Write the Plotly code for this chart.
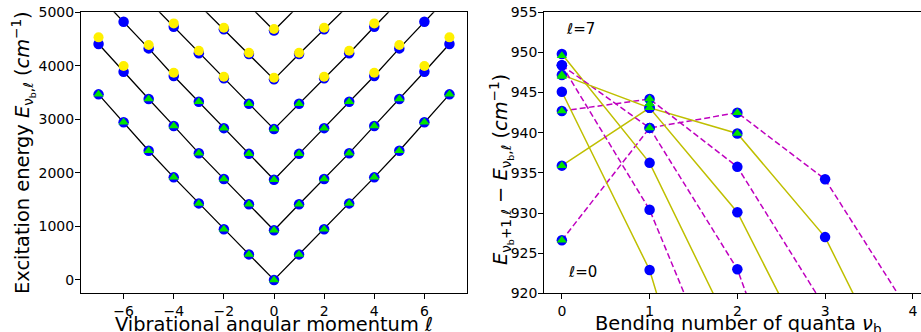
import plotly.graph_objects as go

# ---------------- Left panel data: E(vb, l) in cm^-1, listed per |l| with vb = |l|, |l|+2, ...
blue_l0 = [0, 928, 1872, 2818, 3747, 4660]
blue_l1 = [477, 1413, 2355, 3293, 4220, 5130]
blue_l2 = [946, 1887, 2836, 3768, 4683]
blue_l3 = [1430, 2368, 3328, 4234, 5143]
blue_l4 = [1916, 2877, 3810, 4731]
blue_l5 = [2414, 3380, 4326, 5211]
blue_l6 = [2945, 3890, 4824]
blue_l7 = [3467, 4407, 5313]
blue_by_l = [blue_l0, blue_l1, blue_l2, blue_l3, blue_l4, blue_l5, blue_l6, blue_l7]
green_max_vb = 7  # green triangles exist for vb <= 7

yellow_vb8_l = [0, 2, 4, 6]
yellow_vb8 = [3778, 3797, 3872, 3996]
yellow_vb9_l = [1, 3, 5, 7]
yellow_vb9 = [4245, 4283, 4388, 4532]
yellow_vb10_l = [0, 2, 4]
yellow_vb10 = [4687, 4712, 4793]

# ---------------- Right panel data: E(vb+1,l) - E(vb,l) vs vb index, per l
diff_l0 = [926.6, 940.6, 942.5, 934.2, 917.0]
diff_l1 = [935.9, 943.1, 939.9, 927.0, 905.0]
diff_l2 = [942.7, 944.2, 935.75, 918.2]
diff_l3 = [949.8, 936.25, 913.8]
diff_l4 = [948.4, 940.6, 923.0, 893.0]
diff_l5 = [947.2, 943.1, 930.1, 908.6]
diff_l6 = [948.4, 930.4, 904.0]
diff_l7 = [945.1, 922.9, 886.6]
diffs = [diff_l0, diff_l1, diff_l2, diff_l3, diff_l4, diff_l5, diff_l6, diff_l7]

gdiff_l0 = [926.6, 940.6, 942.5]
gdiff_l1 = [935.9, 943.1, 939.9]
gdiff_l2 = [942.7, 944.2]
gdiff_l3 = [949.6, 943.6]
gdiff_l4 = [947.0]
gdiff_l5 = [947.2]
gdiffs = [gdiff_l0, gdiff_l1, gdiff_l2, gdiff_l3, gdiff_l4, gdiff_l5]

BLUE = "#0000FF"
GREEN = "#00E400"
YELLOW = "#FFF000"
OLIVE = "#BFBF00"
MAGENTA = "#BF00BF"
FONT = "DejaVu Sans"

fig = go.Figure()

# ---- left: black lines of constant k (vb - |l| = 2k)
for k in range(6):
    xs, ys = [], []
    for l in range(-7, 8):
        arr = blue_by_l[abs(l)]
        if k < len(arr):
            xs.append(l)
            ys.append(arr[k])
    fig.add_trace(go.Scatter(x=xs, y=ys, mode="lines", line=dict(color="black", width=1.3),
                             showlegend=False, hoverinfo="skip", xaxis="x", yaxis="y"))

bx, by, gx, gy = [], [], [], []
for la, arr in enumerate(blue_by_l):
    for k, e in enumerate(arr):
        vb = la + 2 * k
        for l in ([la, -la] if la else [0]):
            bx.append(l); by.append(e)
            if vb <= green_max_vb:
                gx.append(l); gy.append(e)
fig.add_trace(go.Scatter(x=bx, y=by, mode="markers", marker=dict(color=BLUE, size=10.5),
                         showlegend=False, xaxis="x", yaxis="y"))
fig.add_trace(go.Scatter(x=gx, y=gy, mode="markers",
                         marker=dict(color=GREEN, size=9, symbol="triangle-up"),
                         showlegend=False, xaxis="x", yaxis="y"))
yx, yy = [], []
for ls, es in [(yellow_vb8_l, yellow_vb8), (yellow_vb9_l, yellow_vb9), (yellow_vb10_l, yellow_vb10)]:
    for l, e in zip(ls, es):
        for s in ([l, -l] if l else [0]):
            yx.append(s); yy.append(e)
fig.add_trace(go.Scatter(x=yx, y=yy, mode="markers", marker=dict(color=YELLOW, size=10),
                         showlegend=False, xaxis="x", yaxis="y"))

# ---- right panel
for l, d in enumerate(diffs):
    style = dict(color=MAGENTA, width=1.5, dash="6px,3px") if l % 2 == 0 else dict(color=OLIVE, width=1.5)
    fig.add_trace(go.Scatter(x=list(range(len(d))), y=d, mode="lines", line=style,
                             showlegend=False, hoverinfo="skip", xaxis="x2", yaxis="y2"))
rbx, rby = [], []
for d in diffs:
    for i, v in enumerate(d):
        rbx.append(i); rby.append(v)
fig.add_trace(go.Scatter(x=rbx, y=rby, mode="markers", marker=dict(color=BLUE, size=10.5),
                         showlegend=False, xaxis="x2", yaxis="y2"))
rgx, rgy = [], []
for d in gdiffs:
    for i, v in enumerate(d):
        rgx.append(i); rgy.append(v)
fig.add_trace(go.Scatter(x=rgx, y=rgy, mode="markers",
                         marker=dict(color=GREEN, size=9, symbol="triangle-up"),
                         showlegend=False, xaxis="x2", yaxis="y2"))

W, H = 921, 332
ytop, ybot = 12.3, 293.3
ydom = [1 - ybot / H, 1 - ytop / H]
tickfont = dict(family=FONT, size=14, color="black")
axcommon = dict(showgrid=False, zeroline=False, showline=True, linecolor="black", linewidth=1.1,
                ticks="outside", ticklen=5, tickwidth=1.1, tickcolor="black", tickfont=tickfont,
                exponentformat="none", automargin=False)

fig.update_layout(
    width=W, height=H, margin=dict(l=0, r=0, t=0, b=0, pad=0, autoexpand=False),
    paper_bgcolor="white", plot_bgcolor="white",
    font=dict(family=FONT, color="black"),
    xaxis=dict(domain=[81 / W, 467 / W], range=[-7.7, 7.7], tickvals=[-6, -4, -2, 0, 2, 4, 6],
               mirror=True, anchor="y", **axcommon),
    yaxis=dict(domain=ydom, range=[-250, 5000], tickvals=[0, 1000, 2000, 3000, 4000, 5000],
               mirror=True, anchor="x", ticklabelstandoff=-2, **axcommon),
    xaxis2=dict(domain=[544.3 / W, 1.0], range=[-0.2, 4.093], tickvals=[0, 1, 2, 3, 4],
                mirror=True, anchor="y2", **axcommon),
    yaxis2=dict(domain=ydom, range=[920, 955], tickvals=[920, 925, 930, 935, 940, 945, 950, 955],
                mirror=False, anchor="x2", ticklabelstandoff=-2, **axcommon),
)

tfont = dict(family=FONT, size=19.4, color="black")
ann = []
ann.append(dict(text="Vibrational angular momentum ℓ", x=274 / W, y=1 - 324 / H, xref="paper", yref="paper",
                xanchor="center", yanchor="middle", showarrow=False, font=tfont))
ann.append(dict(text="Bending number of quanta <i>ν</i><sub>b</sub>", x=738 / W, y=1 - 324 / H,
                xref="paper", yref="paper", xanchor="center", yanchor="middle", showarrow=False, font=tfont))
ann.append(dict(text="Excitation energy <i>E</i><sub>ν<sub>b</sub>,ℓ</sub> (<i>cm</i><sup>−1</sup>)",
                x=23 / W, y=1 - 153 / H, xref="paper", yref="paper", xanchor="center", yanchor="middle",
                textangle=-90, showarrow=False, font=tfont))
ann.append(dict(text="<i>E</i><sub>ν<sub>b</sub>+1,ℓ</sub> − <i>E</i><sub>ν<sub>b</sub>,ℓ</sub> (<i>cm</i><sup>−1</sup>)",
                x=501 / W, y=1 - 170 / H, xref="paper", yref="paper", xanchor="center", yanchor="middle",
                textangle=-90, showarrow=False, font=tfont))
ann.append(dict(text="ℓ=7", x=0.03, y=952.9, xref="x2", yref="y2", xanchor="left", yanchor="middle",
                showarrow=False, font=dict(family=FONT, size=15, color="black")))
ann.append(dict(text="ℓ=0", x=0.05, y=922.7, xref="x2", yref="y2", xanchor="left", yanchor="middle",
                showarrow=False, font=dict(family=FONT, size=15, color="black")))
fig.update_layout(annotations=ann)

fig.write_html("out.html")
